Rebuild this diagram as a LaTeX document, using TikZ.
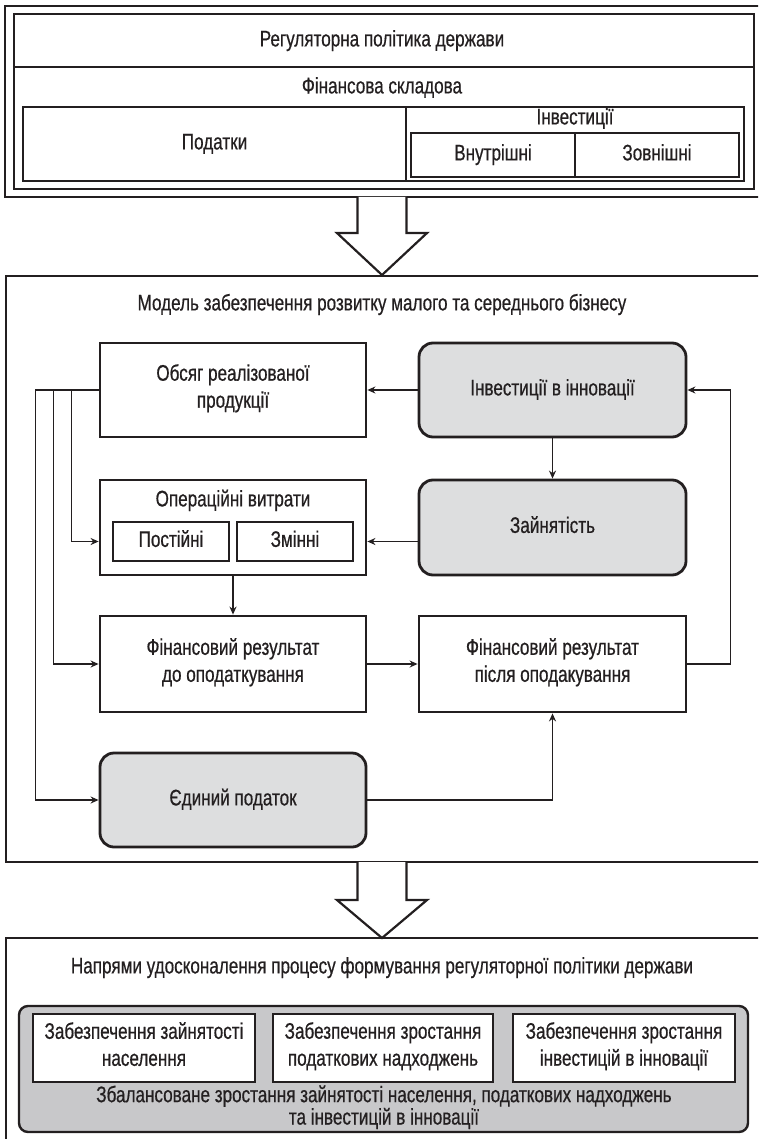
\documentclass[tikz,border=0pt]{standalone}
\usepackage{fontspec}
\setmainfont[FakeStretch=0.76, FakeBold=0.6]{Liberation Sans}
\usetikzlibrary{arrows.meta,calc}
\definecolor{ink}{RGB}{35,31,32}
\definecolor{boxgray}{RGB}{221,222,223}
\definecolor{panelgray}{RGB}{200,200,202}
\tikzset{
  frame/.style={draw=ink, line width=2.2pt, inner sep=0pt},
  box/.style={draw=ink, line width=2.8pt, fill=white, inner sep=0pt, align=center, text=ink,
    execute at begin node=\strut, execute at end node=\strut},
  rbox/.style={box, fill=boxgray, rounded corners=14pt},
  txt/.style={inner sep=0pt, align=center, text=ink,
    execute at begin node=\strut, execute at end node=\strut},
  conn/.style={draw=ink, line width=1.7pt, -{Stealth[length=8pt,width=7pt]}},
  bigarrow/.style={draw=ink, line width=2.2pt, fill=white, line join=miter},
}
\begin{document}
\begin{tikzpicture}[x=1pt,y=-1pt, font=\fontsize{22.5}{27}\selectfont]
\clip (0,0) rectangle (758,1139);
\useasboundingbox (0,0) rectangle (758,1139);

% ---------- top block ----------
\node[frame, minimum width=770pt, minimum height=191pt] (topouter) at (390,101.5) {};
\node[frame, minimum width=740pt, minimum height=175pt] (topinner) at (384,101.5) {};
\draw[ink, line width=2.2pt] (topinner.west |- 0,67) -- (topinner.east |- 0,67);
\node[txt] (reg) at (382,41) {Регуляторна політика держави};
\node[txt] (fin) at (382,88) {Фінансова складова};
\node[box, minimum width=383pt, minimum height=74pt] (pod) at (214.5,144) {Податки};
\node[box, minimum width=338pt, minimum height=74pt] (inv) at (575,144) {};
\node[txt] (invt) at (575,119) {Інвестиції};
\node[box, line width=2.4pt, minimum width=164pt, minimum height=44pt] (vnut) at (493,155) {Внутрішні};
\node[box, line width=2.4pt, minimum width=164pt, minimum height=44pt] (zovn) at (657,155) {Зовнішні};

% block arrow 1
\draw[bigarrow] (357.5,197) -- (357.5,233) -- (337,233) -- (382,275) -- (427,233) -- (406.5,233) -- (406.5,197);

% ---------- middle block ----------
\node[frame, minimum width=769pt, minimum height=586pt] (mid) at (390.5,569) {};
\node[txt] (model) at (382,305) {Модель забезпечення розвитку малого та середнього бізнесу};

\node[box, minimum width=266pt, minimum height=94pt] (obs) at (233,390) {Обсяг реалізованої\\продукції};
\node[rbox, minimum width=267pt, minimum height=94pt] (ininn) at (552.5,390) {Інвестиції в інновації};

\node[box, minimum width=266pt, minimum height=95pt] (oper) at (233,527.5) {};
\node[txt] (opert) at (233,501) {Операційні витрати};
\node[box, line width=2.4pt, minimum width=116pt, minimum height=39pt] (post) at (171,541.5) {Постійні};
\node[box, line width=2.4pt, minimum width=116pt, minimum height=39pt] (zmin) at (295,541.5) {Змінні};
\node[rbox, minimum width=267pt, minimum height=95pt] (zayn) at (552.5,527.5) {Зайнятість};

\node[box, minimum width=266pt, minimum height=96pt] (frdo) at (233,664) {Фінансовий результат\\до оподаткування};
\node[box, minimum width=267pt, minimum height=96pt] (frpis) at (552.5,664) {Фінансовий результат\\після оподакування};

\node[rbox, minimum width=266pt, minimum height=94pt] (yed) at (233,800) {Єдиний податок};

% connectors
\draw[conn] (ininn.west) -- (obs.east);
\draw[conn] (ininn.south) -- (zayn.north);
\draw[conn] (zayn.west |- post.center) -- (oper.east |- post.center);
\draw[conn] (oper.south) -- (frdo.north);
\draw[conn] (frdo.east) -- (frpis.west);
\draw[conn] (frpis.east) -- ++(43,0) |- (ininn.east);
\draw[conn] (yed.east) -| (frpis.south);
\draw[conn] (obs.west) -- ++(-63,0) |- (yed.west);
\draw[conn] (obs.west) -- ++(-45,0) |- (frdo.west);
\draw[conn] (obs.west) -- ++(-27,0) |- (oper.west |- post.center);

% block arrow 2
\draw[bigarrow] (357.5,862) -- (357.5,900) -- (337,900) -- (382,938) -- (427,900) -- (406.5,900) -- (406.5,862);

% ---------- bottom block ----------
\node[frame, minimum width=769pt, minimum height=214pt] (bot) at (390.5,1045) {};
\node[txt] (napr) at (382,968) {Напрями удосконалення процесу формування регуляторної політики держави};
\node[box, fill=panelgray, rounded corners=9pt, line width=2.4pt, minimum width=729pt, minimum height=126pt] (panel) at (383.5,1069) {};
\node[box, line width=2.4pt, minimum width=222pt, minimum height=68pt] (b1) at (144,1048) {Забезпечення зайнятості\\населення};
\node[box, line width=2.4pt, minimum width=220pt, minimum height=68pt] (b2) at (383,1048) {Забезпечення зростання\\податкових надходжень};
\node[box, line width=2.4pt, minimum width=222pt, minimum height=68pt] (b3) at (624,1048) {Забезпечення зростання\\інвестицій в інновації};
\node[txt, font=\fontsize{22.5}{20}\selectfont] (bal) at (384,1108) {Збалансоване зростання зайнятості населення, податкових надходжень\\та інвестицій в інновації};
\end{tikzpicture}
\end{document}
